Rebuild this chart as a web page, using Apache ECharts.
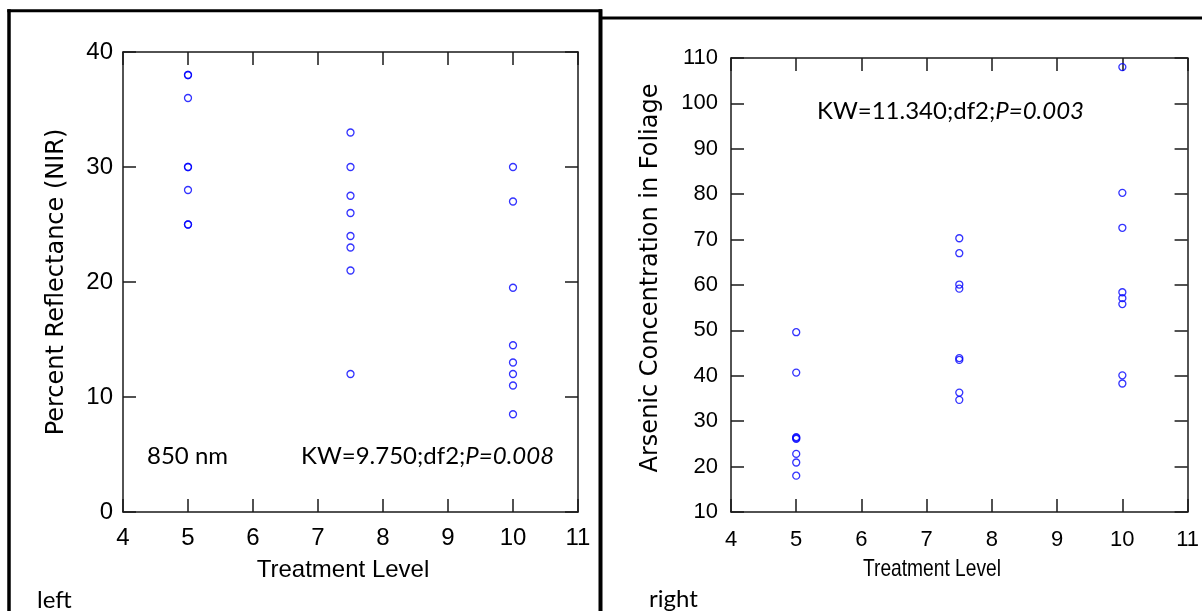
<!DOCTYPE html>
<html>
<head>
<meta charset="utf-8">
<script src="https://cdn.jsdelivr.net/npm/echarts@6/dist/echarts.min.js"></script>
<style>
html,body{margin:0;padding:0;background:#fff;}
#chart{width:1202px;height:611px;}
</style>
</head>
<body>
<div id="chart"></div>
<script>
// ---- data ----
const treatmentLevels = [5, 7.5, 10];
// left panel: Percent Reflectance (NIR), 850 nm
const nirAtLevel5 = [38, 38, 36, 30, 30, 28, 25, 25];
const nirAtLevel7_5 = [33, 30, 27.5, 26, 24, 23, 21, 12];
const nirAtLevel10 = [30, 27, 19.5, 14.5, 13, 12, 11, 8.5];
// right panel: Arsenic Concentration in Foliage
const arsenicAtLevel5 = [49.6, 40.7, 26.5, 26.3, 26.1, 22.8, 20.9, 18.0];
const arsenicAtLevel7_5 = [70.3, 67.0, 60.1, 59.2, 43.9, 43.5, 36.3, 34.7];
const arsenicAtLevel10 = [108.0, 80.3, 72.6, 58.4, 57.1, 55.8, 40.1, 38.3];
// axes
const xRange = [4, 11];
const leftYRange = [0, 40];
const rightYRange = [10, 110];
// texts
const leftNote = '850 nm';
const leftStat = ['KW=9.750;df2;', 'P=0.008'];
const rightStat = ['KW=11.340;df2;', 'P=0.003'];
const leftXTitle = 'Treatment Level';
const rightXTitle = 'Treatment Level';
const leftYTitle = 'Percent Reflectance (NIR)';
const rightYTitle = 'Arsenic Concentration in Foliage';

function pairs(groups) {
  const out = [];
  groups.forEach((vals, i) => vals.forEach(v => out.push([treatmentLevels[i], v])));
  return out;
}
const leftData = pairs([nirAtLevel5, nirAtLevel7_5, nirAtLevel10]);
const rightData = pairs([arsenicAtLevel5, arsenicAtLevel7_5, arsenicAtLevel10]);

const AX = '#1a1a1a';
const axisLine = {show: true, onZero: false, lineStyle: {color: AX, width: 1.5}};
const axisTick = {show: true, inside: true, length: 13, lineStyle: {color: AX, width: 1.5}};
const ARIAL = '"Liberation Sans", Arial, sans-serif';
const CAL = 'Lato, Carlito, Calibri, sans-serif';
const DJ = '"DejaVu Sans", sans-serif';

function xAxes(grid, labelSize, labelMargin, withName) {
  const bottom = {type: 'value', gridIndex: grid, position: 'bottom', min: xRange[0], max: xRange[1], interval: 1,
     axisLine, axisTick, splitLine: {show: false},
     axisLabel: {fontSize: labelSize, fontFamily: ARIAL, color: '#000', margin: labelMargin, lineHeight: 24}};
  if (withName) {
    bottom.name = leftXTitle;
    bottom.nameLocation = 'middle';
    bottom.nameGap = 46;
    bottom.nameTextStyle = {fontSize: 24, fontFamily: ARIAL, color: '#000', padding: [0, 15, 0, 0], lineHeight: 24};
  }
  return [bottom,
    {type: 'value', gridIndex: grid, position: 'top', min: xRange[0], max: xRange[1], interval: 1,
     axisLine, axisTick, splitLine: {show: false}, axisLabel: {show: false}}
  ];
}
function yAxes(grid, range, labelSize, name, nameGap, nameSize, pad, labelMargin) {
  return [
    {type: 'value', gridIndex: grid, position: 'left', min: range[0], max: range[1], interval: 10,
     axisLine, axisTick, splitLine: {show: false},
     axisLabel: {fontSize: labelSize, fontFamily: ARIAL, color: '#000', margin: labelMargin},
     name: name, nameLocation: 'middle', nameGap: nameGap, nameRotate: 90,
     nameTextStyle: {fontSize: nameSize, fontFamily: DJ, color: '#000', padding: pad}},
    {type: 'value', gridIndex: grid, position: 'right', min: range[0], max: range[1], interval: 10,
     axisLine, axisTick, splitLine: {show: false}, axisLabel: {show: false}}
  ];
}

const marker = {
  type: 'scatter', symbol: 'circle', symbolSize: 7,
  itemStyle: {color: 'rgba(255,255,255,0)', borderColor: '#0000ff', borderWidth: 1.3},
  emphasis: {disabled: true}, silent: true
};

function stat(parts, x, y) {
  return {
    type: 'text', x: x, y: y, silent: true,
    style: {
      text: parts[0] + '{i|' + parts[1] + '}',
      fontSize: 24, fontFamily: CAL, fill: '#000', verticalAlign: 'middle', align: 'left',
      rich: {i: {fontSize: 24, fontFamily: CAL, fontStyle: 'italic', fill: '#000'}}
    }
  };
}

const option = {
  animation: false,
  backgroundColor: '#fff',
  grid: [
    {left: 123, top: 52, width: 455, height: 460},
    {left: 731, top: 58, width: 460, height: 454}
  ],
  xAxis: [].concat(xAxes(0, 24, 14, true), xAxes(1, 22, 16, false)),
  yAxis: [].concat(
    yAxes(0, leftYRange, 24, leftYTitle, 54, 24, [0, 0, 0, 0], 10),
    yAxes(1, rightYRange, 22, rightYTitle, 68, 24, [0, 0, 0, 14], 13)
  ),
  series: [
    Object.assign({}, marker, {xAxisIndex: 0, yAxisIndex: 0, data: leftData}),
    Object.assign({}, marker, {xAxisIndex: 2, yAxisIndex: 2, data: rightData})
  ],
  graphic: [
    // panel frames
    {type: 'line', silent: true, shape: {x1: 9, y1: 9.3, x2: 9, y2: 630}, style: {stroke: '#000', lineWidth: 3.5}},
    {type: 'line', silent: true, shape: {x1: 7.3, y1: 10.7, x2: 602, y2: 10.7}, style: {stroke: '#000', lineWidth: 3}},
    {type: 'line', silent: true, shape: {x1: 600.5, y1: 9.3, x2: 600.5, y2: 630}, style: {stroke: '#000', lineWidth: 4}},
    {type: 'line', silent: true, shape: {x1: 600, y1: 18, x2: 1210, y2: 18}, style: {stroke: '#000', lineWidth: 3}},
    // right-panel x title (condensed, as in the reference)
    {type: 'text', x: 932, y: 569, scaleX: 0.8, silent: true,
     style: {text: rightXTitle, fontSize: 24, fontFamily: ARIAL, fill: '#000', align: 'center', verticalAlign: 'middle'}},
    // annotations
    {type: 'text', x: 147, y: 456, silent: true,
     style: {text: leftNote, fontSize: 24, fontFamily: CAL, fill: '#000', verticalAlign: 'middle'}},
    stat(leftStat, 301, 456),
    stat(rightStat, 817, 111),
    {type: 'text', x: 37, y: 600, silent: true,
     style: {text: 'left', fontSize: 24, fontFamily: CAL, fill: '#000', verticalAlign: 'middle'}},
    {type: 'text', x: 649, y: 599, silent: true,
     style: {text: 'right', fontSize: 24, fontFamily: CAL, fill: '#000', verticalAlign: 'middle'}}
  ]
};

const chart = echarts.init(document.getElementById('chart'), null, {renderer: 'canvas'});
chart.setOption(option);
</script>
</body>
</html>
